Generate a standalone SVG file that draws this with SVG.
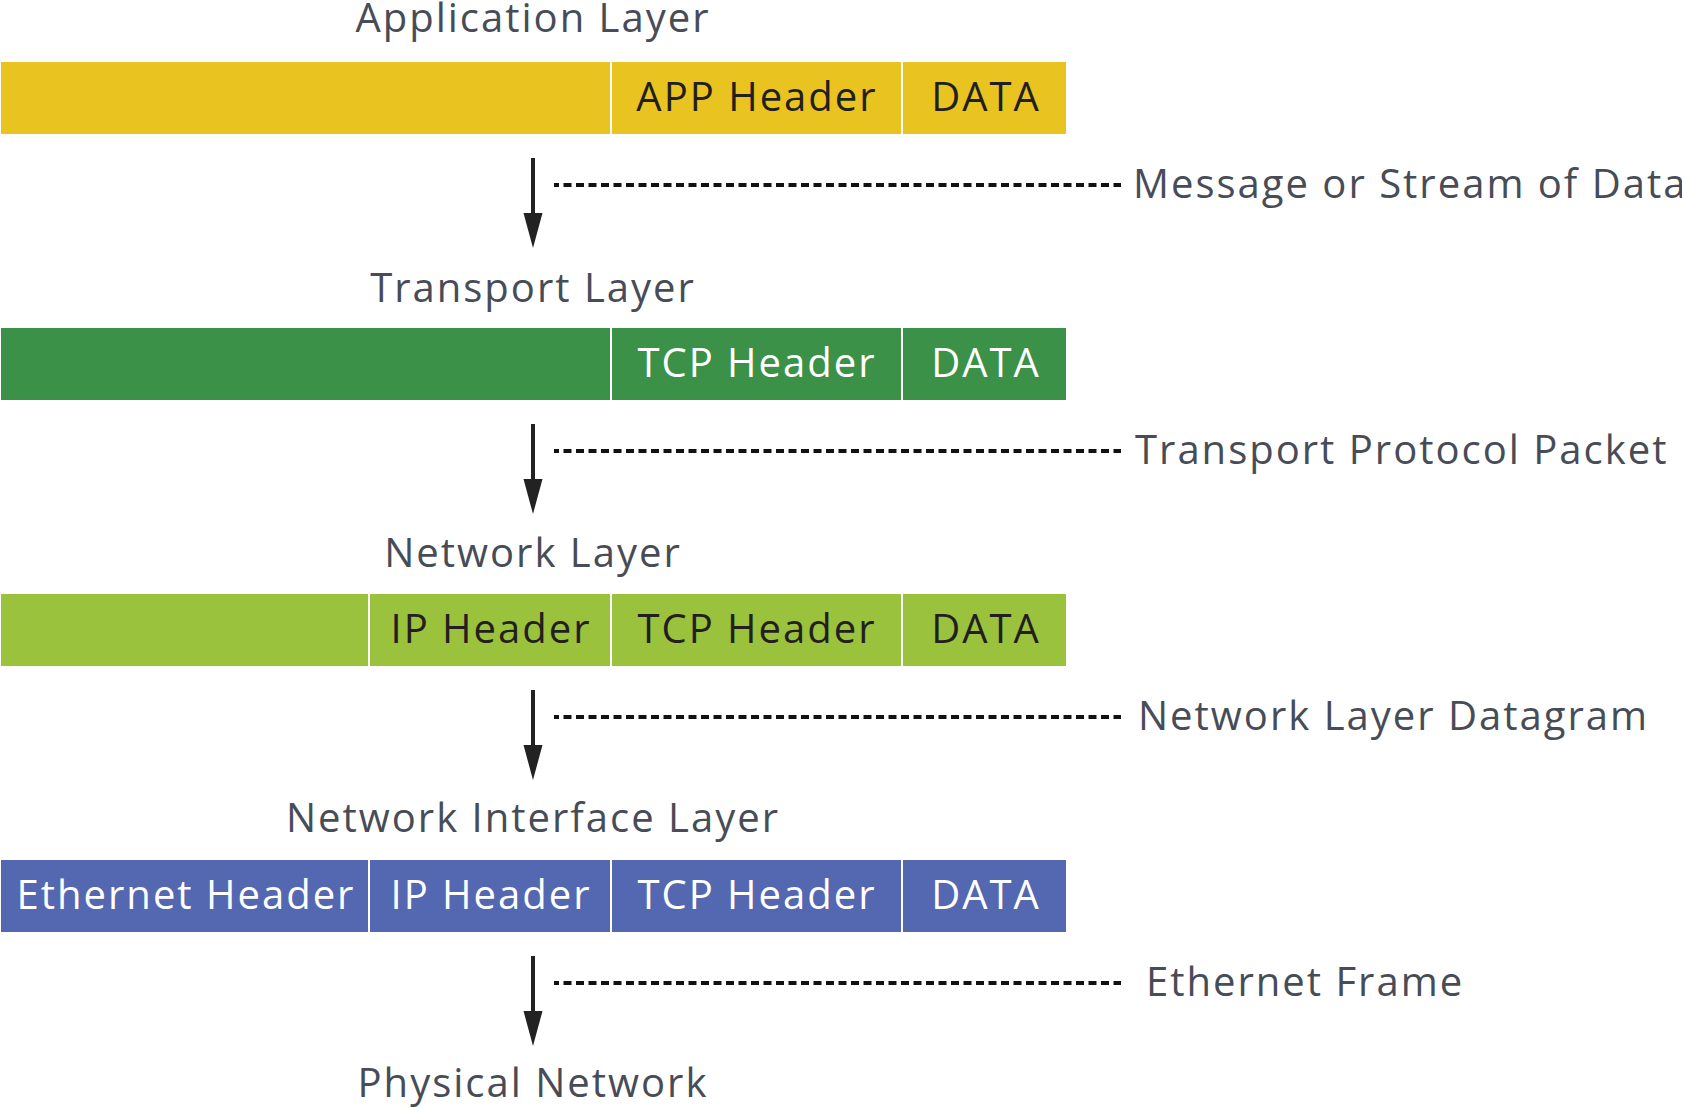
<svg xmlns="http://www.w3.org/2000/svg" width="1682" height="1108" viewBox="0 0 1682 1108">
<style>
text{font-family:"Open Sans","Noto Sans","DejaVu Sans",sans-serif;font-size:40px;letter-spacing:2px}
.title{fill:#474c57;text-anchor:middle}
.lbl{fill:#474c57}
.cell{stroke:#ffffff;stroke-width:2}
.ct{text-anchor:middle}
.dark{fill:#231f20}
.light{fill:#ffffff}
.y{fill:#e9c420}
.g{fill:#3a9147}
.lg{fill:#9bc23d}
.b{fill:#5467b1}
.dash{stroke:#111;stroke-width:4;stroke-dasharray:8 4.5;fill:none}
.arr{stroke:#222;stroke-width:4;fill:none}
.head{fill:#222}
</style>
<rect width="1682" height="1108" fill="#ffffff"/>

<g id="app-layer">
<text class="title" x="533" y="32">Application Layer</text>
<rect class="cell y" x="0" y="61" width="611" height="74"/>
<rect class="cell y" x="611" y="61" width="291" height="74"/>
<rect class="cell y" x="902" y="61" width="165" height="74"/>
<text class="ct dark" x="757" y="111">APP Header</text>
<text class="ct dark" x="986" y="111">DATA</text>
</g>

<g id="transport-layer">
<text class="title" x="533" y="302">Transport Layer</text>
<rect class="cell g" x="0" y="327" width="611" height="74"/>
<rect class="cell g" x="611" y="327" width="291" height="74"/>
<rect class="cell g" x="902" y="327" width="165" height="74"/>
<text class="ct light" x="757" y="377">TCP Header</text>
<text class="ct light" x="986" y="377">DATA</text>
</g>

<g id="network-layer">
<text class="title" x="533" y="567">Network Layer</text>
<rect class="cell lg" x="0" y="593" width="369" height="74"/>
<rect class="cell lg" x="369" y="593" width="242" height="74"/>
<rect class="cell lg" x="611" y="593" width="291" height="74"/>
<rect class="cell lg" x="902" y="593" width="165" height="74"/>
<text class="ct dark" x="491" y="643">IP Header</text>
<text class="ct dark" x="757" y="643">TCP Header</text>
<text class="ct dark" x="986" y="643">DATA</text>
</g>

<g id="network-interface-layer">
<text class="title" x="533" y="832">Network Interface Layer</text>
<rect class="cell b" x="0" y="859" width="369" height="74"/>
<rect class="cell b" x="369" y="859" width="242" height="74"/>
<rect class="cell b" x="611" y="859" width="291" height="74"/>
<rect class="cell b" x="902" y="859" width="165" height="74"/>
<text class="ct light" x="186" y="909">Ethernet Header</text>
<text class="ct light" x="491" y="909">IP Header</text>
<text class="ct light" x="757" y="909">TCP Header</text>
<text class="ct light" x="986" y="909">DATA</text>
</g>

<g id="physical-network">
<text class="title" x="533" y="1097">Physical Network</text>
</g>

<g id="connectors">
<line class="arr" x1="533" y1="158" x2="533" y2="216"/>
<polygon class="head" points="523.5,213 542.5,213 533,248"/>
<line class="arr" x1="533" y1="424" x2="533" y2="482"/>
<polygon class="head" points="523.5,479 542.5,479 533,514"/>
<line class="arr" x1="533" y1="690" x2="533" y2="748"/>
<polygon class="head" points="523.5,745 542.5,745 533,780"/>
<line class="arr" x1="533" y1="956" x2="533" y2="1014"/>
<polygon class="head" points="523.5,1011 542.5,1011 533,1046"/>
<line class="dash" x1="554" y1="185" x2="1121" y2="185" stroke-dashoffset="3"/>
<line class="dash" x1="554" y1="451" x2="1121" y2="451" stroke-dashoffset="3"/>
<line class="dash" x1="554" y1="717" x2="1121" y2="717" stroke-dashoffset="3"/>
<line class="dash" x1="554" y1="983" x2="1121" y2="983" stroke-dashoffset="3"/>
</g>

<g id="labels">
<text class="lbl" x="1133" y="198">Message or Stream of Data</text>
<text class="lbl" x="1135" y="464">Transport Protocol Packet</text>
<text class="lbl" x="1138" y="730">Network Layer Datagram</text>
<text class="lbl" x="1146" y="996">Ethernet Frame</text>
</g>
</svg>
